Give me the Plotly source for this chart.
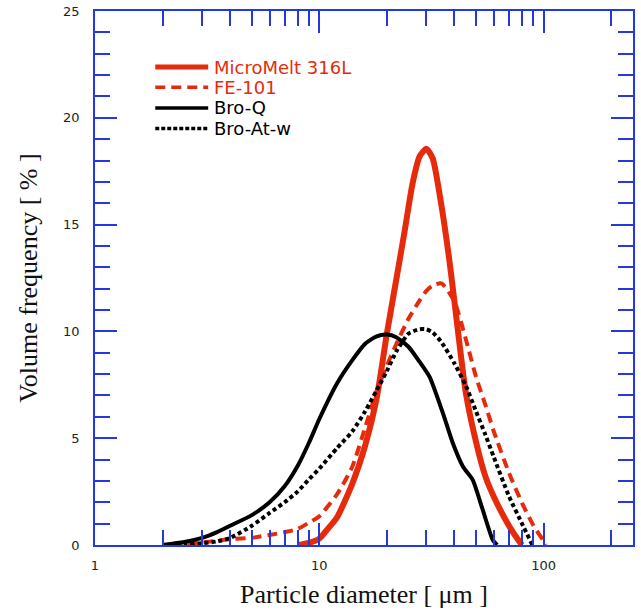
import plotly.graph_objects as go

# ---- data ----
mm_x = [8, 9, 10, 11, 12, 14, 16, 18, 20, 22, 24, 26, 28, 30, 32, 35, 38, 40, 45, 50, 55, 60, 70, 78, 80]
mm_y = [0, 0.1, 0.3, 0.8, 1.3, 2.85, 4.65, 6.85, 9.9, 12.4, 14.7, 16.9, 18.2, 18.55, 18.1, 15.9, 13.3, 11.4, 7.1, 4.8, 3.2, 2.25, 0.9, 0.15, 0]

fe_x = [2.2, 2.5, 3, 3.5, 4, 5, 6, 7, 8, 9, 10, 12, 14, 16, 18, 20, 22, 25, 28, 30, 32, 35, 40, 45, 50, 55, 60, 70, 80, 90, 100, 102]
fe_y = [0, 0.05, 0.12, 0.2, 0.28, 0.34, 0.47, 0.6, 0.75, 1.05, 1.35, 2.38, 3.65, 5.5, 7.2, 8.4, 9.4, 10.6, 11.45, 11.9, 12.15, 12.25, 11.4, 9.62, 7.85, 6.55, 5.3, 3.38, 1.97, 0.91, 0.18, 0]

bq_x = [2, 2.5, 3, 3.5, 4, 5, 6, 7, 8, 9, 10, 12, 14, 16, 18, 20, 22, 25, 28, 31, 35.6, 39.4, 43.7, 48.3, 53.5, 59.3, 62]
bq_y = [0, 0.14, 0.33, 0.6, 0.9, 1.4, 2.0, 2.75, 3.7, 4.8, 5.9, 7.57, 8.64, 9.42, 9.77, 9.85, 9.73, 9.27, 8.57, 7.87, 6.15, 4.75, 3.66, 3.04, 1.64, 0.23, 0]

ba_x = [2, 2.5, 3, 3.5, 4, 5, 6, 7, 8, 9, 10, 12, 14, 16, 18, 20, 22, 25, 28, 30, 32, 35, 40, 45, 50, 55, 60, 70, 80, 89]
ba_y = [0, 0.03, 0.08, 0.17, 0.33, 0.9, 1.5, 2.0, 2.5, 3.08, 3.58, 4.54, 5.31, 6.26, 7.24, 8.15, 9.05, 9.9, 10.1, 10.1, 9.95, 9.5, 8.5, 7.45, 6.24, 5.15, 4.1, 2.29, 1.0, 0]

names = ["MicroMelt 316L", "FE-101", "Bro-Q", "Bro-At-w"]
x_tick_vals = [1, 10, 100]
x_tick_text = ["1", "10", "100"]
x_minor_vals = [2, 3, 4, 5, 6, 7, 8, 9, 20, 30, 40, 50, 60, 70, 80, 90, 200]

RED = "#E62B0C"
BLACK = "#000000"
BLUE = "#2238E0"

styles = [
    dict(color=RED, width=6, dash="solid"),
    dict(color=RED, width=4, dash="10px,6px"),
    dict(color=BLACK, width=4, dash="solid"),
    dict(color=BLACK, width=4, dash="4px,3px"),
]
series = [(mm_x, mm_y), (fe_x, fe_y), (bq_x, bq_y), (ba_x, ba_y)]

fig = go.Figure()
for (xs, ys), nm, st in zip(series, names, styles):
    fig.add_trace(go.Scatter(
        x=xs, y=ys, name=nm, mode="lines",
        line=dict(color=st["color"], width=st["width"], dash=st["dash"],
                  shape="spline", smoothing=0.6),
        showlegend=False,
    ))

# custom legend (long line samples like the reference)
leg_y = [0.895, 0.857, 0.8185, 0.780]
for nm, st, yy in zip(names, styles, leg_y):
    w = 5 if st["width"] == 6 else 3.5
    fig.add_shape(type="line", xref="paper", yref="paper",
                  x0=0.112, x1=0.2104, y0=yy, y1=yy,
                  line=dict(color=st["color"], width=w, dash=st["dash"] if st["dash"] != "4px,3px" else "4px,2px"))
    fig.add_annotation(text=nm, xref="paper", yref="paper", x=0.2179, y=yy,
                       xanchor="left", yanchor="middle", showarrow=False,
                       font=dict(family="DejaVu Sans", size=18, color=st["color"]))

axis_common = dict(
    showline=True, linecolor=BLUE, linewidth=1.5, mirror="ticks",
    ticks="inside", ticklen=22, tickwidth=1.5, tickcolor=BLUE,
    showgrid=False, zeroline=False, automargin=False,
    ticklabeloverflow="allow",
    tickfont=dict(family="DejaVu Sans", size=13, color="#222222"),
)

fig.update_xaxes(
    type="log", range=[0, 2.398],
    tickmode="array", tickvals=x_tick_vals, ticktext=x_tick_text,
    minor=dict(tickmode="array", tickvals=x_minor_vals, ticks="inside",
               ticklen=15, tickwidth=1.5, tickcolor=BLUE, showgrid=False),
    ticklabelstandoff=8,
    title=dict(text="Particle diameter [ \u03bcm ]", standoff=12,
               font=dict(family="Liberation Serif", size=26, color="#111111")),
    **axis_common,
)
fig.update_yaxes(
    range=[0, 25], tickmode="linear", tick0=0, dtick=5,
    minor=dict(dtick=1, ticks="inside", ticklen=15, tickwidth=1.5,
               tickcolor=BLUE, showgrid=False),
    ticklabelstandoff=11,
    title=dict(text="Volume frequency [ % ]", standoff=18,
               font=dict(family="Liberation Serif", size=26, color="#111111")),
    **axis_common,
)

fig.update_layout(
    width=641, height=611,
    margin=dict(l=95, r=8, t=11, b=66),
    paper_bgcolor="white", plot_bgcolor="white",
    showlegend=False,
)

# remove the browser's default 8px body margin so the figure fills the window
fig.write_html("out.html", config={"displayModeBar": False},
               post_script="document.body.style.margin='0';")
